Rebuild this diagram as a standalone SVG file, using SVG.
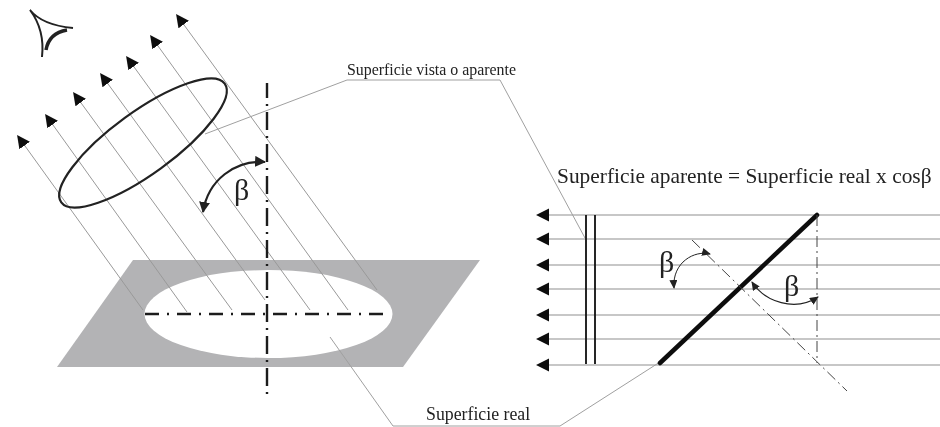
<svg xmlns="http://www.w3.org/2000/svg" width="940" height="427" viewBox="0 0 940 427">
<style>
text{font-family:"Liberation Serif","Times New Roman",serif;fill:#222}
.ray{stroke:#999;stroke-width:1;fill:none}
.hray{stroke:#b4b4b4;stroke-width:1.4;fill:none}
.lead{stroke:#a0a0a0;stroke-width:1;fill:none}
.axis{stroke:#1c1c1c;stroke-width:2.400;fill:none}
.thin{stroke:#444;stroke-width:1;fill:none;stroke-dasharray:11 4 2 4}
.arc{stroke:#222;fill:none}
.beta{font-size:30px}
</style>
<defs>
<filter id="soft" x="0" y="0" width="100%" height="100%"><feGaussianBlur stdDeviation="0.45"/></filter>
<marker id="ah" markerUnits="userSpaceOnUse" markerWidth="14" markerHeight="14" refX="8" refY="6.5" orient="auto-start-reverse"><path d="M0,0L13,6.5L0,13z" fill="#111"/></marker>
<marker id="ah2" markerUnits="userSpaceOnUse" markerWidth="12" markerHeight="12" refX="10" refY="5.5" orient="auto-start-reverse"><path d="M0,0L11,5.5L0,11z" fill="#222"/></marker>
<marker id="ah3" markerUnits="userSpaceOnUse" markerWidth="10" markerHeight="10" refX="8" refY="4" orient="auto-start-reverse"><path d="M0,0L9,4L0,8z" fill="#222"/></marker>
</defs>
<g filter="url(#soft)">
<rect width="940" height="427" fill="#fff"/>
<g id="plane">
<path d="M133,260H480L403,367H57z" fill="#b3b3b5"/>
<ellipse cx="268.500" cy="314" rx="124" ry="44" fill="#fff"/>
</g>

<g id="connectors">
<g class="ray">
<path d="M20,139L143,310" marker-start="url(#ah)"/>
<path d="M48,118L187,312" marker-start="url(#ah)"/>
<path d="M76,96L232,310" marker-start="url(#ah)"/>
<path d="M103,77L265,300" marker-start="url(#ah)"/>
<path d="M129,60L310,310" marker-start="url(#ah)"/>
<path d="M153,39L348,310" marker-start="url(#ah)"/>
<path d="M179,18L377,290" marker-start="url(#ah)"/>
</g>
<g class="hray">
<path d="M541,215H940" marker-start="url(#ah)"/>
<path d="M541,239H940" marker-start="url(#ah)"/>
<path d="M541,265H940" marker-start="url(#ah)"/>
<path d="M541,289H940" marker-start="url(#ah)"/>
<path d="M541,315H940" marker-start="url(#ah)"/>
<path d="M541,339H940" marker-start="url(#ah)"/>
<path d="M541,365H940" marker-start="url(#ah)"/>
</g>
<path class="lead" d="M205,134L347,80H500L585,238"/>
<path class="lead" d="M330,337L393,426H560L660,362"/>
</g>

<g id="axes">
<path class="axis" d="M267,83V398" stroke-dasharray="18 6 2 6" stroke-dashoffset="3"/>
<path class="axis" d="M145,314H385" stroke-dasharray="14 8 2 8"/>
</g>

<g id="eye" fill="none" stroke="#222">
<path d="M30,10Q42,25 73,28M30,10Q45,30 42,57" stroke-width="2"/>
<path d="M67,30Q49,33 46,50" stroke-width="3.500"/>
</g>

<g id="apparent-surface">
<ellipse cx="143" cy="143" rx="101" ry="31" transform="rotate(-36 143 143)" fill="none" stroke="#222" stroke-width="2.200"/>
</g>

<g id="beta-left">
<path class="arc" stroke-width="2.200" d="M265,162C235,160 208,180 203,212" marker-start="url(#ah2)" marker-end="url(#ah2)"/>
<text class="beta" x="234" y="200">β</text>
</g>

<g id="label-apparent"><text x="347" y="75" font-size="15.900">Superficie vista o aparente</text></g>
<g id="label-real"><text x="426" y="420" font-size="17.800">Superficie real</text></g>
<g id="formula"><text x="557" y="183" font-size="21.400">Superficie aparente = Superficie real x cosβ</text></g>

<g id="projected-surface">
<path d="M586,215V364M595,215V364" stroke="#111" stroke-width="1.800" fill="none"/>
</g>
<g id="real-surface">
<path d="M660,363L817,215" stroke="#111" stroke-width="4.500" stroke-linecap="round"/>
</g>
<g id="normals">
<path class="thin" d="M817,215V363"/>
<path class="thin" d="M692,240L847,391"/>
</g>
<g id="beta-right">
<path class="arc" stroke-width="1" d="M710,254C695,250 672,262 674,288" marker-start="url(#ah3)" marker-end="url(#ah3)"/>
<text class="beta" x="659" y="272">β</text>
<path class="arc" stroke-width="1.200" d="M752,282C765,302 795,312 818,297" marker-start="url(#ah3)" marker-end="url(#ah3)"/>
<text class="beta" x="784" y="296">β</text>
</g>
</g>
</svg>
